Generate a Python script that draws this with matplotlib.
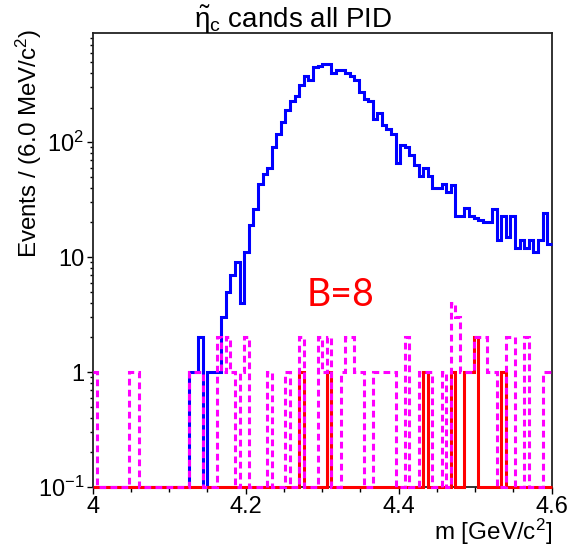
#Recreates a ROOT-style log histogram of eta_c candidates
import numpy as np
import matplotlib.pyplot as plt
from matplotlib.ticker import FixedLocator, FixedFormatter, MultipleLocator

plt.rcParams['font.family'] = ['Liberation Sans', 'DejaVu Sans']
plt.rcParams['mathtext.fontset'] = 'custom'
plt.rcParams['mathtext.rm'] = 'Liberation Sans'
plt.rcParams['mathtext.it'] = 'Liberation Sans'

#Binning: 100 bins of 6 MeV between 4.0 and 4.6 GeV
x_lo, x_hi, n_bins = 4.0, 4.6, 100

#All candidates (blue)
all_cands = [
    0, 0, 0, 0, 0, 0, 0, 0, 0, 0,
    0, 0, 0, 0, 0, 0, 0, 0, 0, 0,
    0, 1, 1, 2, 0, 1, 1, 1, 3, 5,
    7, 9, 4, 11, 19, 26, 43, 53, 60, 91,
    118, 150, 192, 228, 251, 313, 373, 346, 446, 463,
    482, 482, 401, 428, 428, 396, 373, 350, 274, 235,
    228, 160, 180, 140, 130, 117, 66, 94, 91, 78,
    63, 51, 60, 51, 40, 40, 43, 37, 42, 23,
    23, 27, 23, 22, 21, 20, 20, 26, 14, 23,
    15, 23, 12, 14, 12, 14, 11, 14, 24, 13,
]

#Sideband / background candidates (magenta, dashed)
bkg_cands = [
    1, 0, 0, 0, 0, 0, 0, 0, 1, 1,
    0, 0, 0, 0, 0, 0, 0, 0, 0, 0,
    0, 1, 1, 1, 0, 0, 0, 2, 1, 2,
    1, 0, 1, 2, 0, 0, 0, 0, 1, 0,
    0, 0, 1, 0, 0, 2, 0, 0, 0, 2,
    1, 2, 0, 0, 1, 2, 2, 1, 1, 0,
    0, 1, 1, 1, 1, 1, 0, 0, 2, 0,
    0, 1, 1, 1, 0, 0, 1, 0, 4, 3,
    1, 1, 1, 2, 2, 2, 1, 1, 0, 0,
    2, 2, 0, 0, 2, 0, 0, 0, 1, 1,
]

#Selected candidates (red)
sel_cands = [
    0, 0, 0, 0, 0, 0, 0, 0, 0, 0,
    0, 0, 0, 0, 0, 0, 0, 0, 0, 0,
    0, 0, 0, 0, 0, 0, 0, 0, 0, 0,
    0, 0, 0, 0, 0, 0, 0, 0, 0, 0,
    0, 0, 0, 0, 0, 1, 0, 0, 0, 0,
    0, 1, 0, 0, 0, 0, 0, 0, 0, 0,
    0, 0, 0, 0, 0, 0, 0, 0, 0, 0,
    0, 0, 1, 0, 0, 0, 0, 0, 1, 0,
    0, 1, 1, 2, 0, 0, 0, 0, 0, 1,
    0, 0, 0, 0, 0, 0, 0, 0, 0, 0,
]

x_ticks = [4.0, 4.2, 4.4, 4.6]
x_tick_labels = ['4', '4.2', '4.4', '4.6']
y_ticks = [0.1, 1, 10, 100]
y_tick_labels = [r'$10^{-1}$', '1', '10', r'$10^{2}$']
y_lo, y_hi = 0.1, 890

edges = np.linspace(x_lo, x_hi, n_bins + 1)

fig = plt.figure(figsize=(5.86, 5.5), dpi=100)
ax = fig.add_axes([92.7 / 586, 1 - 487 / 550, (551.7 - 92.7) / 586, (487 - 33) / 550])

#empty bins sit on the bottom of the frame like ROOT does on a log axis
def floor(vals):
    v = np.array(vals, dtype=float)
    return np.where(v > 0, v, y_lo)

ax.stairs(floor(all_cands), edges, baseline=None, color='#0000ff', lw=2.2, clip_on=False, zorder=3)
ax.stairs(floor(sel_cands), edges, baseline=None, color='#ff0000', lw=2.2, clip_on=False, zorder=4)
ax.stairs(floor(bkg_cands), edges, baseline=None, color='#ff00ff', lw=2.2,
          linestyle=(0, (2.2, 1.4)), clip_on=False, zorder=5)

ax.set_yscale('log')
ax.set_xlim(x_lo, x_hi)
ax.set_ylim(y_lo, y_hi)

ax.xaxis.set_major_locator(FixedLocator(x_ticks))
ax.xaxis.set_major_formatter(FixedFormatter(x_tick_labels))
ax.xaxis.set_minor_locator(MultipleLocator(0.05))
ax.yaxis.set_major_locator(FixedLocator(y_ticks))
ax.yaxis.set_major_formatter(FixedFormatter(y_tick_labels))

ax.tick_params(axis='both', which='both', direction='out', labelsize=17, colors='k')
ax.tick_params(axis='x', which='major', length=5, width=1, pad=1.5)
ax.tick_params(axis='x', which='minor', length=3.5, width=1)
ax.tick_params(axis='y', which='major', length=4, width=1, pad=2)
ax.tick_params(axis='y', which='minor', length=2.5, width=1)
for s in ax.spines.values():
    s.set_linewidth(1.3)
    s.set_color('#222222')

#titles placed like the ROOT canvas
fig.text(0.5, 1 - 28 / 550, r'$\tilde{\eta}_{c}$ cands all PID', ha='center', va='baseline', fontsize=20)
fig.text(29 / 586, 1 - 29 / 550, r'Events / (6.0 MeV/c$^{2}$)', rotation=90, ha='center', va='top', fontsize=17.4)
fig.text(552 / 586, 1 - 532 / 550, r'm [GeV/c$^{2}$]', ha='right', va='center', fontsize=17.5)

#annotation added on the slide
fig.text(341 / 586, 1 - 295 / 550, 'B=8', color='#ff0000', ha='center', va='center', fontsize=27, family='Lato')

fig.savefig('out.png', dpi=100)
